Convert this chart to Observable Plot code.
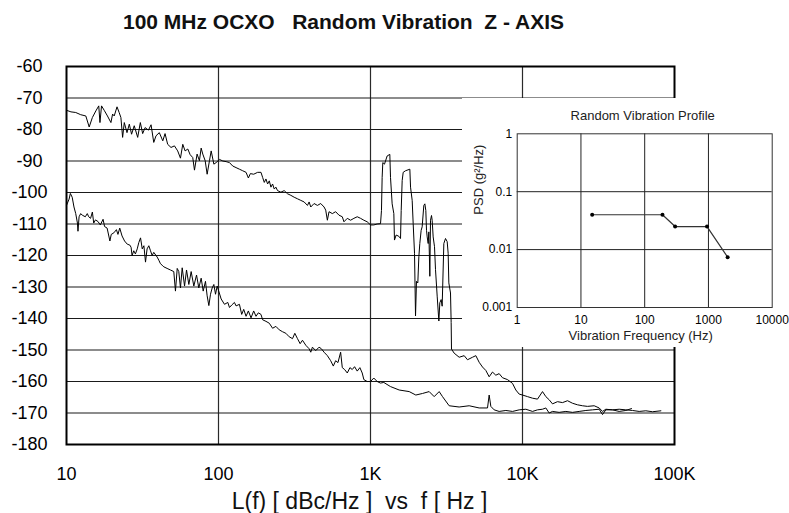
<!DOCTYPE html>
<html><head><meta charset="utf-8">
<script src="https://cdn.jsdelivr.net/npm/d3@7"></script>
<script src="https://cdn.jsdelivr.net/npm/@observablehq/plot@0.6"></script>
<style>
html,body{margin:0;padding:0;background:#fff;}
#wrap{position:relative;width:789px;height:513px;overflow:hidden;}
#wrap svg text{white-space:pre;}
#wrap > svg, #wrap > figure{position:absolute;left:0;top:0;margin:0;}
#wrap > .inset{left:462px;top:98px;}
</style></head><body><div id="wrap"></div>
<script>
const titleText = "100 MHz OCXO   Random Vibration  Z - AXIS";
const xLabelText = "L(f) [ dBc/Hz ]  vs  f [ Hz ]";
const xTicks = [10, 100, 1000, 10000, 100000];
const xTickLabels = ["10", "100", "1K", "10K", "100K"];
const yTicks = [-60, -70, -80, -90, -100, -110, -120, -130, -140, -150, -160, -170, -180];

// Upper trace (vibration on): frequency Hz, L(f) dBc/Hz
const upperFreq = [10.0,10.7,11.5,12.4,13.4,14.1,14.8,15.6,16.3,16.6,17.0,17.7,18.6,19.6,20.1,20.6,21.5,22.2,22.8,23.4,24.0,25.0,25.9,26.8,27.9,29.4,30.6,31.7,32.9,34.6,36.0,37.5,38.8,40.8,43.0,44.5,46.3,48.7,51.3,53.9,56.2,58.2,60.3,62.8,65.1,67.7,69.5,72.3,74.9,76.9,78.8,81.7,84.2,87.2,89.5,93.2,96.5,
101.5,106.8,112.2,118,124.1,130.5,137.3,144.3,151.8,157.2,162.1,170.4,180.9,190.3,195.1,200.1,205.2,210.4,215.8,221.3,226.9,232.7,238.6,244.6,257.3,270.5,284.5,299.2,314.7,330.9,347.9,365.9,384.8,394.6,404.6,425.5,447.4,470.5,494.9,507.4,520.3,533.5,561,589.7,620.3,652.3,668.9,703.5,739.6,777.8,817.9,860.1,904.3,951,1000,1051,1106,
1164,1181,1193,1205,1236,1287,1340,1354,1388,1424,1438,1475,1536,1576,1592,1616,1641,1700,1815,1834,1880,1909,1948,1978,2007,2048,2080,2111,2154,2187,2243,2278,2312,2336,2360,2396,2420,2457,2482,2520,2545,2584,2637,2677,2746,2816,2858,2917,2961,3037,3115,3195,3243,3276,3360,3394,3411,
3551,3831,4133,4346,4690,4932,5187,5455,5740,6035,6346,6676,7022,7385,7969,8596,9040,9508,10000,10790,11640,12550,13540,14240,14980,15750,16990,18330,19780,21330,23000,24810,26770,29610,31950,33600,35340,39090,43250,47850,52930,58550,64770,71670,81340];
const upperLevel = [-73.9,-74.4,-74.6,-75.3,-75.7,-79.2,-76.2,-74.1,-72.5,-77.8,-72.5,-73.9,-75.7,-77.8,-75.1,-75.7,-72.8,-74.6,-76.2,-82.5,-77.8,-81.0,-78.3,-81.5,-78.8,-82.5,-77.8,-81.3,-79.4,-80.2,-78.5,-84.1,-82.0,-81.0,-83.6,-81.3,-84.7,-85.7,-85.2,-86.8,-89.1,-84.7,-86.8,-86.2,-88.0,-88.9,-92.9,-87.8,-89.9,-85.9,-87.8,-89.9,-94.2,-89.9,-86.8,-91.0,-90.5,
-89.5,-90.0,-90.2,-90.5,-91.6,-92.1,-92.6,-93.1,-93.6,-95.4,-94.0,-94.2,-93.6,-93.6,-95.2,-96.8,-95.7,-97.3,-96.3,-98.3,-97.3,-98.9,-98.3,-99.4,-99.9,-99.4,-100.4,-100.9,-101.5,-102.0,-102.5,-103.0,-104.1,-103.0,-104.6,-103.5,-104.1,-103.5,-104.6,-105.6,-108.8,-106.1,-106.7,-106.1,-107.2,-107.7,-109.3,-108.2,-108.8,-108.2,-107.7,-108.2,-108.8,-109.3,-110.3,-110.3,-110.0,
-109.9,-105.7,-95.2,-90.5,-91.0,-88.4,-87.9,-95.2,-103.6,-106.7,-115.1,-113.5,-113.9,-114.6,-105.7,-96.2,-93.6,-93.1,-92.6,-98.3,-102.5,-109.9,-119.3,-139.2,-128.2,-128.7,-120.4,-116.2,-112.0,-110.9,-104.1,-103.6,-105.7,-112.0,-114.1,-116.2,-112.5,-126.6,-108.8,-107.3,-108.8,-114.1,-117.2,-124.5,-132.9,-140.8,-135.0,-134.0,-136.1,-116.2,-114.6,-115.6,-119.3,-128.7,-131.9,-141.3,-149.7,
-151.0,-152.3,-151.8,-153.1,-152.3,-151.8,-153.9,-155.4,-156.5,-158.5,-157.0,-158.0,-157.5,-158.8,-159.4,-160.6,-162.7,-164.0,-164.3,-164.8,-165.3,-165.6,-163.2,-164.8,-165.8,-167.1,-166.4,-166.7,-166.1,-166.9,-167.4,-167.7,-167.9,-167.7,-168.4,-169.5,-168.8,-169.0,-168.8,-169.0,-169.2,-169.5,-169.3,-169.6,-169.3];

// Lower trace (static): frequency Hz, L(f) dBc/Hz
const lowerFreq = [10.0,10.4,10.6,10.9,11.2,11.5,11.8,11.9,12.1,12.4,12.7,13.3,13.7,14.0,14.4,14.8,15.1,15.5,16.1,16.7,17.4,17.8,18.5,19.3,19.7,20.5,21.3,21.8,22.4,23.2,24.1,25.1,26.1,26.6,27.0,27.7,28.4,29.2,29.9,30.7,31.5,32.3,33.1,33.9,34.8,35.7,36.6,37.5,39.5,40.5,41.5,42.6,43.7,45.9,48.3,50.8,52.1,53.5,54.8,56.2,57.7,59.8,61.6,63.8,66.1,68.8,71.7,74.2,76.9,79.3,82.1,84.2,86.4,88.6,90.9,93.2,95.6,98.0,
104.1,109.5,115.1,118.1,122.3,127.3,130.5,137.3,142.1,146.5,151.8,157.2,163.7,170.4,176.5,182.8,190.3,195.1,205.2,215.8,226.9,238.6,250.9,263.8,277.5,291.8,306.8,317.8,330.9,344.4,356.8,375.3,394.6,404.6,414.9,436.2,458.7,475.2,494.9,520.3,547.0,569.4,589.7,610.9,636.0,652.3,675.6,703.5,732.2,758.4,785.6,817.9,851.5,881.9,904.3,951,1000,1051,1106,1163,1223,1352,
1544,1797,1987,2198,2432,2624,2830,2977,3292,3831,4458,5187,5885,6035,6190,6510,7022,7770,8596,9508,10520,11640,12550,13540,14240,14980,15750,17420,19280,21330,23600,26110,28880,31950,33600,35340,39090,43250,47850,52130];
const lowerLevel = [-104.1,-102.1,-100.3,-101.5,-104.6,-106.7,-109.7,-112.3,-107.7,-106.7,-107.2,-107.7,-106.7,-107.7,-108.2,-106.2,-109.7,-108.7,-109.2,-110.3,-108.5,-110.8,-111.3,-115.4,-113.3,-112.8,-111.8,-113.3,-111.3,-113.8,-115.4,-116.4,-116.7,-117.4,-120.0,-118.5,-119.5,-117.9,-115.9,-114.4,-117.9,-116.9,-122.1,-117.9,-116.9,-118.5,-120.0,-119.0,-120.5,-121.5,-122.6,-123.1,-123.6,-124.1,-124.6,-125.1,-131.3,-124.1,-125.1,-130.3,-123.9,-129.7,-124.6,-129.2,-125.1,-129.7,-126.2,-130.3,-127.2,-131.3,-128.2,-132.8,-135.9,-132.3,-130.3,-129.2,-132.3,-129.7,
-133.8,-135.5,-134.9,-136.5,-135.7,-134.9,-136.0,-135.5,-138.7,-137.1,-139.3,-137.6,-139.8,-137.6,-139.3,-138.2,-138.7,-140.4,-140.9,-141.5,-143.1,-142.5,-143.6,-144.2,-144.7,-145.8,-146.4,-144.7,-146.4,-148.0,-146.9,-148.5,-149.6,-150.7,-149.1,-150.2,-149.1,-149.6,-150.7,-151.8,-153.4,-155.1,-153.4,-154.0,-150.7,-155.6,-156.2,-157.3,-155.6,-156.2,-155.3,-156.7,-155.6,-157.3,-159.4,-160.0,-160.0,-158.9,-160.0,-160.5,-160.3,-161.6,
-162.7,-163.2,-164.3,-163.8,-163.2,-164.8,-163.2,-164.8,-167.7,-168.1,-167.7,-168.4,-168.4,-164.3,-167.9,-169.0,-169.5,-169.2,-169.5,-169.0,-168.8,-169.5,-169.0,-168.8,-168.4,-170.0,-169.5,-169.8,-169.5,-169.8,-169.5,-169.2,-169.0,-168.8,-170.5,-169.0,-169.0,-169.5,-169.2,-168.6];

// Inset: random vibration profile
const insetTitle = "Random Vibration Profile";
const insetXLabel = "Vibration Frequency (Hz)";
const insetYLabel = "PSD (g²/Hz)";
const profileFreq = [15, 190, 300, 950, 2000];
const profilePsd = [0.04, 0.04, 0.025, 0.025, 0.0074];
const insetXTicks = [1, 10, 100, 1000, 10000];
const insetYTicks = [0.001, 0.01, 0.1, 1];

const font = '"Liberation Sans", Arial, Helvetica, sans-serif';
const upper = upperFreq.map((f, i) => ({f, L: upperLevel[i]}));
const lower = lowerFreq.map((f, i) => ({f, L: lowerLevel[i]}));
const profile = profileFreq.map((f, i) => ({f, psd: profilePsd[i]}));
const xLabelMap = new Map(xTicks.map((t, i) => [t, xTickLabels[i]]));

const main = Plot.plot({
  width: 789, height: 513,
  marginLeft: 66, marginRight: 115, marginTop: 66, marginBottom: 69,
  style: {fontFamily: font, color: "#000", background: "#fff", overflow: "visible"},
  x: {type: "log", domain: [10, 100000]},
  y: {domain: [-180, -60]},
  marks: [
    Plot.ruleX(xTicks.slice(1, -1), {stroke: "#2a2a2a", strokeWidth: 1.2}),
    Plot.ruleY(yTicks.slice(1, -1), {stroke: "#1a1a1a", strokeWidth: 1.2}),
    Plot.line(upper, {x: "f", y: "L", stroke: "#000", strokeWidth: 1}),
    Plot.line(lower, {x: "f", y: "L", stroke: "#000", strokeWidth: 1}),
    Plot.frame({stroke: "#000", strokeWidth: 2}),
    Plot.axisX(xTicks, {tickSize: 0, tickPadding: 23, fontSize: 18, tickFormat: d => xLabelMap.get(d), label: null}),
    Plot.axisY(yTicks, {tickSize: 0, tickPadding: 37, textAnchor: "middle", fontSize: 18, tickFormat: d => String(d), label: null}),
    Plot.text([titleText], {text: d => d, frameAnchor: "top", dx: -27, dy: -37.7, lineAnchor: "bottom", fontSize: 21, fontWeight: "bold", fill: "#111"}),
    Plot.text([xLabelText], {text: d => d, frameAnchor: "bottom", dx: -11, dy: 64, lineAnchor: "bottom", fontSize: 23, fill: "#111"})
  ]
});

const inset = Plot.plot({
  width: 327, height: 249,
  marginLeft: 54.7, marginRight: 17.3, marginTop: 35.3, marginBottom: 40,
  style: {fontFamily: font, color: "#000", background: "#fff", overflow: "visible"},
  x: {type: "log", domain: [1, 10000]},
  y: {type: "log", domain: [0.001, 1]},
  marks: [
    Plot.ruleX(insetXTicks.slice(1, -1), {stroke: "#222", strokeWidth: 1}),
    Plot.ruleY(insetYTicks.slice(1, -1), {stroke: "#222", strokeWidth: 1}),
    Plot.frame({stroke: "#333", strokeWidth: 1}),
    Plot.line(profile, {x: "f", y: "psd", stroke: "#333", strokeWidth: 1.2}),
    Plot.dot(profile, {x: "f", y: "psd", r: 2, fill: "#000", stroke: "none"}),
    Plot.axisX(insetXTicks, {tickSize: 0, tickPadding: 8, fontSize: 12, tickFormat: d => String(d), label: null}),
    Plot.axisY(insetYTicks, {tickSize: 0, tickPadding: 5, fontSize: 12, tickFormat: d => String(d), label: null}),
    Plot.text([insetTitle], {text: d => d, frameAnchor: "top", dx: -2, dy: -17.6, lineAnchor: "middle", fontSize: 13, fill: "#222"}),
    Plot.text([insetXLabel], {text: d => d, frameAnchor: "bottom", dx: -4, dy: 28, lineAnchor: "middle", fontSize: 13, fill: "#222"}),
    Plot.text([insetYLabel], {text: d => d, frameAnchor: "left", dx: -38.4, dy: -6, rotate: -90, lineAnchor: "middle", fontSize: 13, fill: "#222"})
  ]
});
inset.classList.add("inset");

const wrap = document.getElementById("wrap");
wrap.appendChild(main);
wrap.appendChild(inset);
</script></body></html>
